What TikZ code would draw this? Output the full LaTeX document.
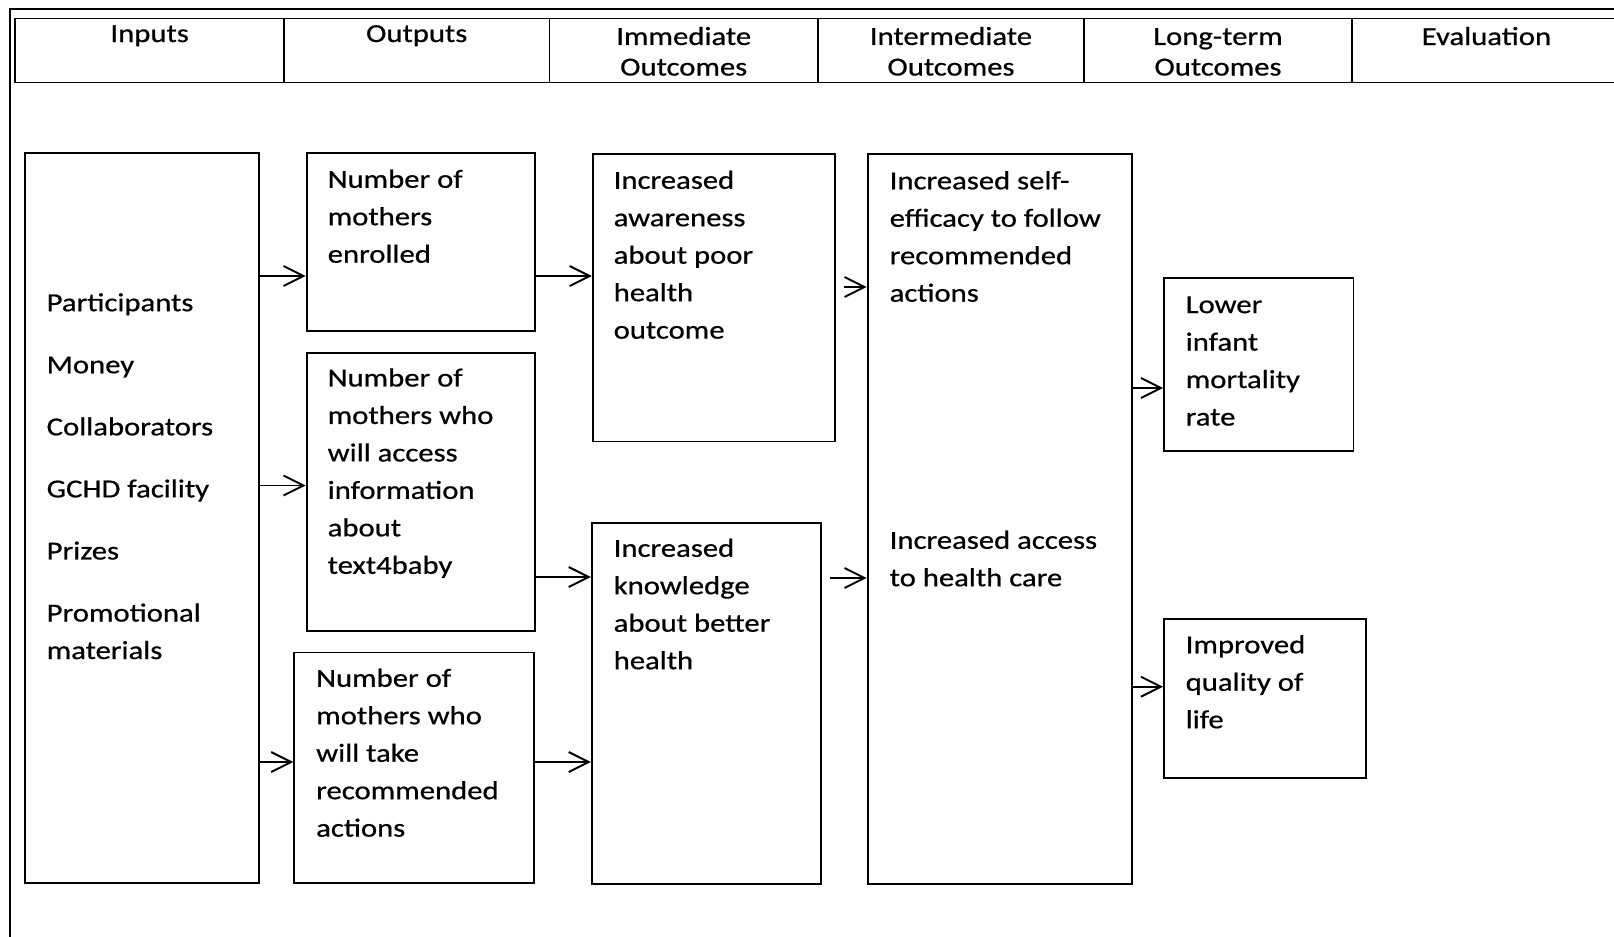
\documentclass[tikz,border=0pt]{standalone}
\usepackage{fontspec}
\setmainfont{Carlito}[FakeStretch=1.18, FakeBold=0.6]
\usepackage{tikz}
\usetikzlibrary{positioning,
                arrows.meta}                % arrow tips

\tikzset{
  box/.style={draw, line width=0.55pt, anchor=north west, inner sep=0pt},
  hcell/.style={box, minimum height=6.4mm},
  txt/.style={anchor=north west, align=left, inner sep=0pt, execute at begin node=\strut},
  htxt/.style={anchor=base, align=center, inner sep=0pt, font=\fontsize{7.4pt}{8.7pt}\selectfont},
  arr/.style={line width=0.55pt, -{Straight Barb[length=2mm, width=2mm]}}
}

\begin{document}
\begin{tikzpicture}[x=0.1mm, y=-0.1mm, font=\fontsize{7.4pt}{10.66pt}\selectfont]
  \useasboundingbox (0,0) rectangle (1614,936);

  % frame and header row
  \draw[line width=0.5pt] (10,1000) -- (10,9) -- (1700,9);
  \node[hcell, minimum width=26.86mm] (hin)  at (14.4,17.5) {};
  \node[hcell, minimum width=26.55mm] (hout) at (283,17.5) {};
  \node[hcell, minimum width=26.85mm] (himm) at (548.5,17.5) {};
  \node[hcell, minimum width=26.6mm]  (hint) at (817,17.5) {};
  \node[hcell, minimum width=26.8mm]  (hlong) at (1083,17.5) {};
  \node[hcell, minimum width=26.9mm]  (heval) at (1351,17.5) {};

  % base of a header label = its last line
  \node[htxt] (lin)   at (hin.north |- 0,42)     {Inputs};
  \node[htxt] (lout)  at (hout.north |- 0,42)    {Outputs};
  \node[htxt] (limm)  at (himm.north |- 0,75.5)  {Immediate\\Outcomes};
  \node[htxt] (lint)  at (hint.north |- 0,75.5)  {Intermediate\\Outcomes};
  \node[htxt] (llong) at (hlong.north |- 0,75.5) {Long-term\\Outcomes};
  \node[htxt] (leval) at (heval.north |- 0,45)   {Evaluation};

  % boxes
  \node[box, minimum width=23.47mm, minimum height=72.98mm] (inputs)    at (23.7,152.3) {};
  \node[box, minimum width=22.85mm, minimum height=17.81mm] (enrolled)  at (305.7,152.3) {};
  \node[box, minimum width=22.85mm, minimum height=27.8mm]  (access)    at (305.7,352) {};
  \node[box, minimum width=23.99mm, minimum height=23.06mm] (take)      at (293.3,651.5) {};
  \node[box, minimum width=24.19mm, minimum height=28.71mm] (awareness) at (591.8,153.4) {};
  \node[box, minimum width=22.96mm, minimum height=36.12mm] (knowledge) at (590.8,521.9) {};
  \node[box, minimum width=26.45mm, minimum height=72.97mm] (interm)    at (866.7,153.4) {};
  \node[box, minimum width=18.94mm, minimum height=17.29mm] (mortality) at (1163.1,276.9) {};
  \node[box, minimum width=20.18mm, minimum height=15.95mm] (quality)   at (1163.1,617.6) {};

  % texts
  \node[txt] (tin) at (46,292.5)
    {Participants\\[7pt]Money\\[7pt]Collaborators\\[7pt]GCHD facility\\[7pt]Prizes\\[7pt]Promotional\\materials};
  \node[txt] (tenr)  at (327,169)    {Number of\\mothers\\enrolled};
  \node[txt] (tacc)  at (327,367.7)  {Number of\\mothers who\\will access\\information\\about\\text4baby};
  \node[txt] (ttake) at (315.5,668)  {Number of\\mothers who\\will take\\recommended\\actions};
  \node[txt] (taw)   at (613,170)    {Increased\\awareness\\about poor\\health\\outcome};
  \node[txt] (tkn)   at (613,538)    {Increased\\knowledge\\about better\\health};
  \node[txt] (tint1) at (889,170.5)  {Increased self-\\efficacy to follow\\recommended\\actions};
  \node[txt] (tint2) at (889,530)    {Increased access\\to health care};
  \node[txt] (tmort) at (1185,295.7) {Lower\\infant\\mortality\\rate};
  \node[txt] (tqual) at (1185,634.5) {Improved\\quality of\\life};

  % arrows
  \draw[arr] (inputs.east |- 0,276)   -- (enrolled.west |- 0,276);
  \draw[arr] (inputs.east |- 0,485.5) -- (access.west |- 0,485.5);
  \draw[arr] (inputs.east |- 0,762)   -- (take.west |- 0,762);
  \draw[arr] (enrolled.east |- 0,276) -- (awareness.west |- 0,276);
  \draw[arr] (access.east |- 0,577)   -- (knowledge.west |- 0,577);
  \draw[arr] (take.east |- 0,762)     -- (knowledge.west |- 0,762);
  \draw[arr] ([xshift=0.8mm]awareness.east |- 0,287) -- (interm.west |- 0,287);
  \draw[arr] ([xshift=0.8mm]knowledge.east |- 0,578) -- (interm.west |- 0,578);
  \draw[arr] (interm.east |- 0,388)   -- (mortality.west |- 0,388);
  \draw[arr] (interm.east |- 0,686.7) -- (quality.west |- 0,686.7);
\end{tikzpicture}
\end{document}
